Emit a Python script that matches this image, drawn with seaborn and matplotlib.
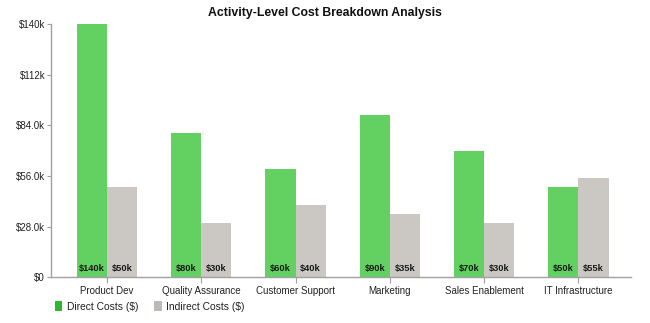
import matplotlib
matplotlib.use("Agg")
import matplotlib.pyplot as plt
from matplotlib.patches import Patch
from matplotlib.ticker import FixedLocator
import seaborn as sns
import pandas as pd

activities = ["Product Dev", "Quality Assurance", "Customer Support",
              "Marketing", "Sales Enablement", "IT Infrastructure"]
direct_costs = [140000, 80000, 60000, 90000, 70000, 50000]
indirect_costs = [50000, 30000, 40000, 35000, 30000, 55000]
series_names = ["Direct Costs ($)", "Indirect Costs ($)"]
y_ticks = [0, 28000, 56000, 84000, 112000, 140000]
y_tick_labels = ["$0", "$28.0k", "$56.0k", "$84.0k", "$112k", "$140k"]

df = pd.DataFrame({
    "Activity": activities * 2,
    "Series": [series_names[0]] * len(activities) + [series_names[1]] * len(activities),
    "Cost": direct_costs + indirect_costs,
})

sns.set_style("white")
plt.rcParams["font.family"] = ["Liberation Sans", "DejaVu Sans"]

bar_colors = ["#62D162", "#CBC8C4"]
legend_colors = ["#2DB82D", "#BDB9B5"]

fig = plt.figure(figsize=(6.5, 3.23), dpi=100)
ax = fig.add_axes([0.079, 0.142, 0.892, 0.783])

sns.barplot(data=df, x="Activity", y="Cost", hue="Series", palette=bar_colors,
            width=0.64, saturation=1, legend=False, linewidth=0, ax=ax)

ax.set_xlim(-0.59, 5.56)
ax.set_ylim(0, 140000)
ax.yaxis.set_major_locator(FixedLocator(y_ticks))
ax.set_yticklabels(y_tick_labels)
ax.set_xlabel("")
ax.set_ylabel("")

for s in ["top", "right"]:
    ax.spines[s].set_visible(False)
for s in ["left", "bottom"]:
    ax.spines[s].set_color("#A0A0A0")
    ax.spines[s].set_linewidth(1.0)

ax.tick_params(axis="y", length=3, width=0.8, color="#A0A0A0", labelsize=7,
               labelcolor="#222222", pad=1.5, left=True)
ax.tick_params(axis="x", length=4, width=0.8, color="#A0A0A0", labelsize=7,
               labelcolor="#222222", pad=2.5, bottom=True)

# value labels along the base of each bar
values = direct_costs + indirect_costs
for patch, val in zip(ax.patches, values):
    cx = patch.get_x() + patch.get_width() / 2
    ax.text(cx, 2200, f"${val // 1000}k", ha="center", va="bottom",
            fontsize=6.7, color="#1a1a1a", fontweight="bold")

fig.suptitle("Activity-Level Cost Breakdown Analysis", fontsize=8.8,
             fontweight="bold", y=0.96, va="center", color="#111111")

handles = [Patch(facecolor=c, edgecolor="none") for c in legend_colors]
fig.legend(handles, series_names, loc="center left", bbox_to_anchor=(0.07, 0.052),
           ncol=2, frameon=False, fontsize=7.4, handlelength=0.75, handleheight=1.2,
           handletextpad=0.45, columnspacing=1.5, labelcolor="#222222")

fig.savefig("out.png", dpi=100)
